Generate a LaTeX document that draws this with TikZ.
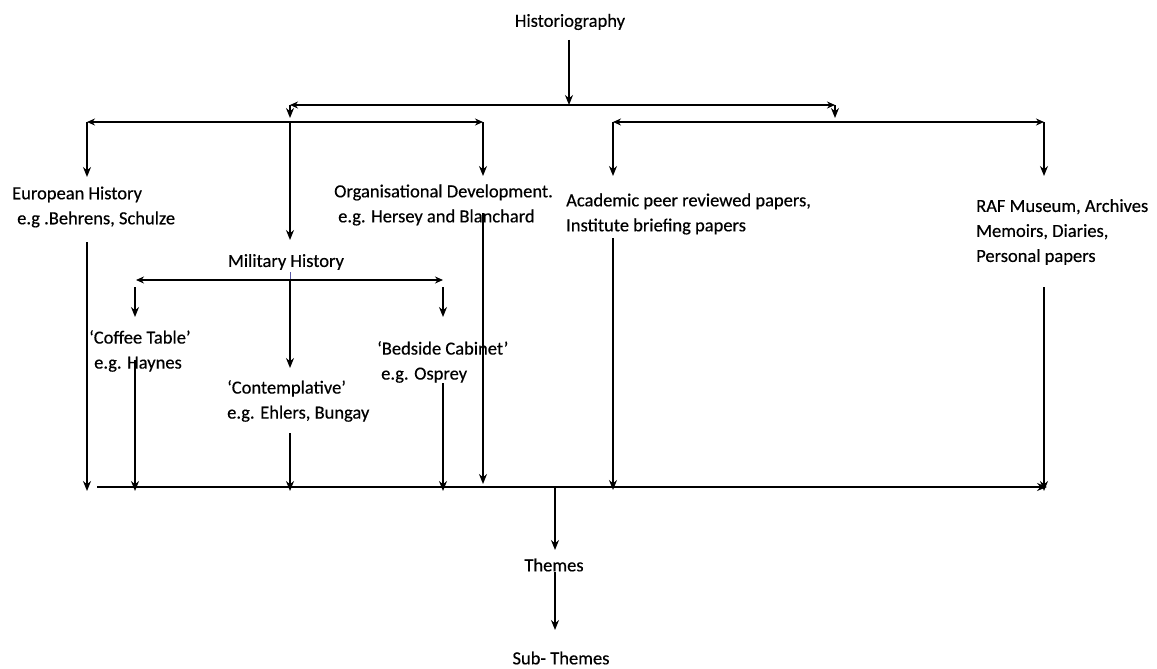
\documentclass[tikz,border=0pt]{standalone}
\usepackage{fontspec}
\setmainfont{Carlito}[FakeBold=0.4]
\usetikzlibrary{arrows.meta}
\begin{document}
\begin{tikzpicture}[x=1pt,y=-1pt,
  txt/.style={inner sep=0pt,align=left,font=\fontsize{18.5}{25}\selectfont},
  ln/.style={line width=1.5pt,black},
  arr/.style={ln,-{Stealth[length=10pt,width=8pt]}},
  dbl/.style={ln,{Stealth[length=8pt,width=7pt]}-{Stealth[length=8pt,width=7pt]}}]
\useasboundingbox[fill=white] (0,0) rectangle (1157,669);
% texts
\node[txt] (hist) at (570,22) {Historiography};
\node[txt,anchor=west] (eur) at (12,207) {European History\\\hspace{5pt}e.g .Behrens, Schulze};
\node[txt,anchor=west] (org) at (334,205) {Organisational Development.\\\hspace{4pt}e.g. Hersey and Blanchard};
\node[txt,anchor=west] (acad) at (566,214) {Academic peer reviewed papers,\\Institute briefing papers};
\node[txt,anchor=west] (raf) at (976,232) {RAF Museum, Archives\\Memoirs, Diaries,\\Personal papers};
\node[txt] (mil) at (286,262) {Military History};
\node[txt,anchor=west] (cof) at (89,351) {‘Coffee Table’\\\hspace{5pt}e.g. Haynes};
\node[txt,anchor=west] (con) at (227,401) {‘Contemplative’\\e.g. Ehlers, Bungay};
\node[txt,anchor=west] (bed) at (377,362) {‘Bedside Cabinet’\\\hspace{4pt}e.g. Osprey};
\node[txt] (thm) at (554,565) {Themes};
\node[txt] (sub) at (561,658) {Sub- Themes};
% junction coordinates
\coordinate (hJ) at (569,105);
\coordinate (tL) at (290,105);
\coordinate (tR) at (835,105);
\coordinate (lL) at (87,122);
\coordinate (lM) at (290,122);
\coordinate (lR) at (483,122);
\coordinate (rL) at (613,122);
\coordinate (rM) at (835,122);
\coordinate (rR) at (1044,122);
\coordinate (mL) at (136,280);
\coordinate (mM) at (290,280);
\coordinate (mR) at (443,280);
\coordinate (bL) at (97,487);
\coordinate (bR) at (1047,487);
\coordinate (bT) at (555,487);
% top level
\draw[arr] (569,40) -- (hJ);
\draw[dbl] (tL) -- (tR);
\draw[arr] (tL) -- ([yshift=4pt]lM);
\draw[arr] (tR) -- ([yshift=4pt]rM);
\draw[dbl] (lL) -- (lR);
\draw[dbl] (rL) -- (rR);
\draw[arr] (lL) -- (87,177);
\draw[arr] (lR) -- (483,176);
\draw[arr] (lM) -- (290,240);
\draw[arr] (rL) -- (613,176);
\draw[arr] (rR) -- (1044,176);
% military
\draw[line width=1pt,gray!70!blue] (290,272) -- (mM);
\draw[dbl] (mL) -- (mR);
\draw[arr] (135,287) -- (135,317);
\draw[arr] (443,287) -- (443,317);
\draw[arr] (mM) -- (290,368);
% to bottom line
\draw[arr] (87,242) -- (87,491);
\draw[arr] (135,360) -- (135,491);
\draw[arr] (290,433) -- (290,491);
\draw[arr] (443,383) -- (443,491);
\draw[arr] (483,213) -- (483,484);
\draw[arr] (613,238) -- (613,490);
\draw[arr] (1044,287) -- (1044,491);
\draw[arr] (bL) -- (bR);
% themes
\draw[arr] (bT) -- (555,550);
\draw[arr] (555,572) -- (555,630);
\end{tikzpicture}
\end{document}
